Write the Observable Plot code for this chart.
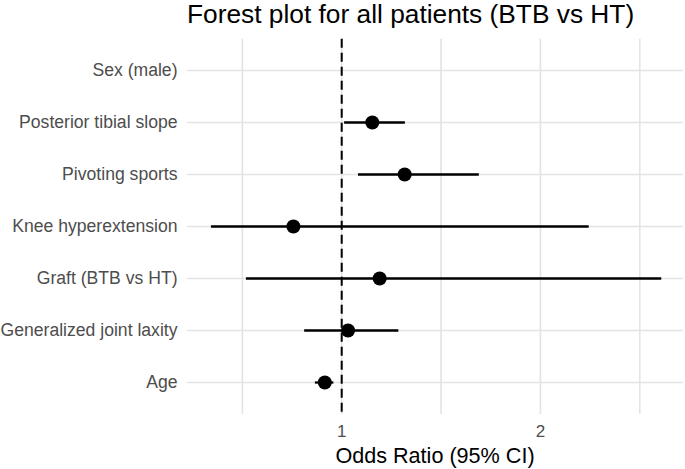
<!DOCTYPE html>
<html>
<head>
<meta charset="utf-8">
<script src="https://cdn.jsdelivr.net/npm/d3@7"></script>
<script src="https://cdn.jsdelivr.net/npm/@observablehq/plot@0.6"></script>
<style>
  html, body { margin: 0; padding: 0; background: #fff; }
  body { width: 685px; height: 469px; overflow: hidden; font-family: "Liberation Sans", Arial, Helvetica, sans-serif; }
  #title { height: 30px; line-height: 29px; font-size: 26.3px; color: #000; padding-left: 187px; white-space: nowrap; box-sizing: border-box; overflow: visible; }
  #xlabel { margin-left: 187px; width: 496px; text-align: center; font-size: 21.6px; line-height: 28px; color: #000; white-space: nowrap; }
  svg { display: block; }
</style>
</head>
<body>
<div id="title">Forest plot for all patients (BTB vs HT)</div>
<div id="chart"></div>
<div id="xlabel">Odds Ratio (95% CI)</div>
<script>
const categories = ["Sex (male)", "Posterior tibial slope", "Pivoting sports", "Knee hyperextension", "Graft (BTB vs HT)", "Generalized joint laxity", "Age"];
const oddsRatio = [null, 1.154, 1.317, 0.757, 1.191, 1.032, 0.915];
const lowerCI   = [null, 1.012, 1.082, 0.342, 0.518, 0.811, 0.865];
const upperCI   = [null, 1.318, 1.690, 2.243, 2.608, 1.285, 0.958];
const xTicks = [1, 2];
const xGrid = [0.5, 1, 1.5, 2, 2.5];
const refLine = [1];

const rows = categories.map((c, i) => ({term: c, or: oddsRatio[i], lo: lowerCI[i], hi: upperCI[i]}))
  .filter(d => d.or != null);

const chart = Plot.plot({
  width: 685,
  height: 412,
  marginTop: 8.7,
  marginBottom: 28,
  marginLeft: 187,
  marginRight: 2,
  style: {fontFamily: '"Liberation Sans", Arial, Helvetica, sans-serif', background: "#fff"},
  x: {domain: [0.224, 2.72], label: null},
  y: {type: "point", domain: categories, padding: 0.6, label: null},
  marks: [
    Plot.ruleX(xGrid, {stroke: "#e3e3e3", strokeWidth: 1.6}),
    Plot.ruleY(categories, {y: d => d, stroke: "#e3e3e3", strokeWidth: 1.6}),
    Plot.ruleX(refLine, {stroke: "#000", strokeWidth: 2, strokeDasharray: "9,5"}),
    Plot.link(rows, {x1: "lo", x2: "hi", y1: "term", y2: "term", stroke: "#000", strokeWidth: 2.3}),
    Plot.dot(rows, {x: "or", y: "term", r: 7, fill: "#000", stroke: "none"}),
    Plot.axisX({ticks: xTicks, tickSize: 0, tickPadding: 10, fontSize: 17, color: "#4d4d4d", label: null, tickFormat: d => String(d)}),
    Plot.axisY({tickSize: 0, tickPadding: 10, fontSize: 17.6, color: "#4d4d4d", label: null})
  ]
});
document.getElementById("chart").appendChild(chart);
</script>
</body>
</html>
